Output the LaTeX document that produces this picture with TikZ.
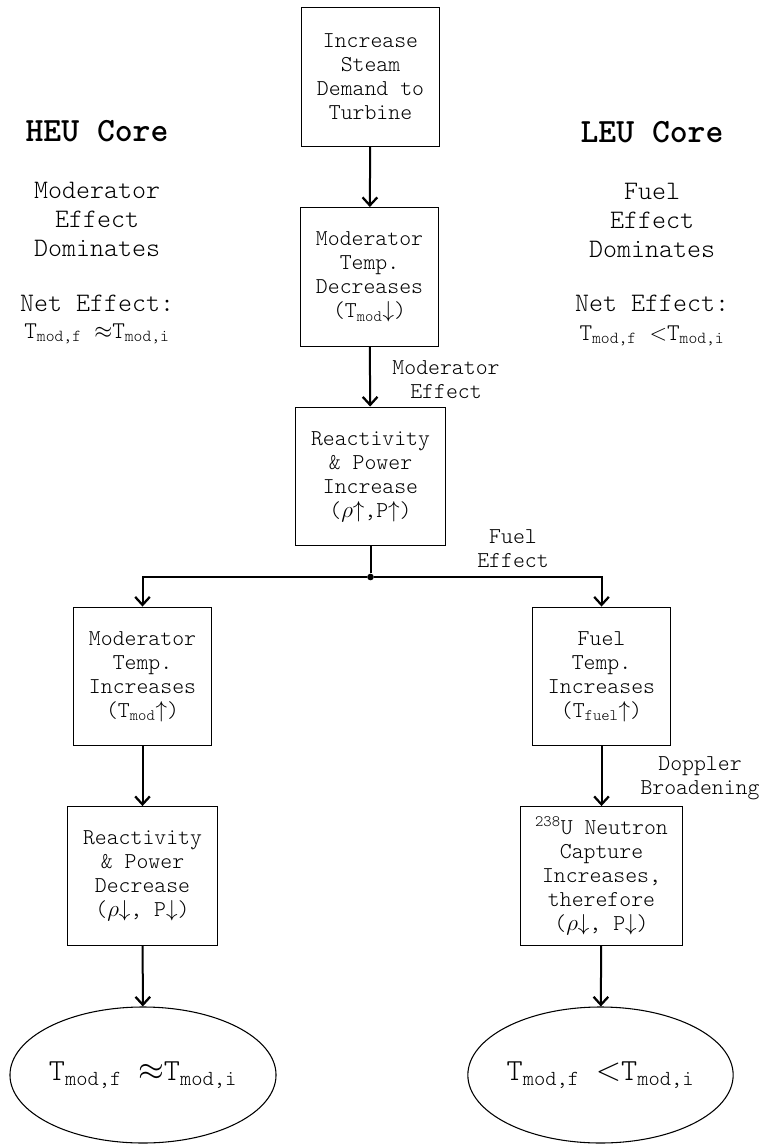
\documentclass[tikz,border=0pt]{standalone}
\usepackage{fontspec}
\usetikzlibrary{arrows.meta}
\usetikzlibrary{shapes}

\newcommand{\mono}{\ttfamily\fontseries{l}\selectfont}
\newcommand{\tsub}[1]{\textsubscript{#1}}
\newcommand{\up}{$\uparrow$}
\newcommand{\down}{$\downarrow$}

\tikzset{
    box/.style={draw, line width=0.9pt, align=center, minimum width=104pt, minimum height=104pt,
        inner sep=2pt, font=\fontsize{17}{18}\mono},
    endstate/.style={draw, ellipse, line width=0.8pt, minimum width=195pt, minimum height=102pt,
        inner sep=0pt, font=\fontsize{23}{26}\mono},
    flow/.style={line width=1.5pt, -{Straight Barb[length=6pt,width=11pt,line width=1.7pt]}},
    edgelabel/.style={align=center, font=\fontsize{17}{18}\mono},
    sidetext/.style={align=center, font=\fontsize{20}{21.75}\mono},
    sideeq/.style={font=\fontsize{18}{20}\mono},
    coretitle/.style={font=\fontsize{25.5}{28}\ttfamily\bfseries},
    junction/.style={circle, fill, inner sep=0pt, minimum size=5pt}
}

\begin{document}
\begin{tikzpicture}[x=0.75pt, y=-0.75pt]
    \useasboundingbox (0,0) rectangle (759,1144);

    % side notes
    \node[coretitle] (heu) at (97,131) {HEU Core};
    \node[sidetext] (heudom) at (97,219) {Moderator\\Effect\\Dominates};
    \node[sidetext] (heunet) at (97,303) {Net Effect:};
    \node[sideeq] (heueq) at (97,334) {T\tsub{mod,f} $\approx$T\tsub{mod,i}};

    \node[coretitle] (leu) at (652,132) {LEU Core};
    \node[sidetext] (leudom) at (652,220) {Fuel\\Effect\\Dominates};
    \node[sidetext] (leunet) at (652,303) {Net Effect:};
    \node[sideeq] (leueq) at (652,336) {T\tsub{mod,f} $<$T\tsub{mod,i}};

    % main column
    \node[box] (steam) at (370.5,77) {Increase\\Steam\\Demand to\\Turbine};
    \node[box] (moddec) at (369.5,277) {Moderator\\Temp.\\Decreases\\(T\tsub{mod}\down)};
    \node[box, minimum width=113pt] (reactinc) at (370.5,476.5) {Reactivity\\\& Power\\Increase\\($\rho$\up,P\up)};
    \node[junction] (split) at (370.5,577) {};

    % HEU branch
    \node[box] (modinc) at (142.5,676.5) {Moderator\\Temp.\\Increases\\(T\tsub{mod}\up)};
    \node[box, minimum width=113pt] (reactdec) at (142.5,876) {Reactivity\\\& Power\\Decrease\\($\rho$\down, P\down)};
    \node[endstate] (heuend) at (143,1075) {T\tsub{mod,f} $\approx$T\tsub{mod,i}};

    % LEU branch
    \node[box] (fueltemp) at (601.5,676.5) {Fuel\\Temp.\\Increases\\(T\tsub{fuel}\up)};
    \node[box, minimum width=122pt] (capture) at (601.5,876) {\textsuperscript{238}U Neutron\\Capture\\Increases,\\therefore\\($\rho$\down, P\down)};
    \node[endstate] (leuend) at (600.5,1075) {T\tsub{mod,f} $<$T\tsub{mod,i}};

    % edge labels
    \node[edgelabel] (modeffect) at (446,380) {Moderator\\Effect};
    \node[edgelabel] (fueleffect) at (513,549) {Fuel\\Effect};
    \node[edgelabel] (doppler) at (700,778) {Doppler\\Broadening};

    \draw[flow] (steam) -- (moddec);
    \draw[flow] (moddec) -- (reactinc);
    \draw[line width=1.5pt] (reactinc) -- (split);
    \draw[flow] (split) -| (modinc);
    \draw[flow] (split) -| (fueltemp);
    \draw[flow] (modinc) -- (reactdec);
    \draw[flow] (reactdec) -- (heuend);
    \draw[flow] (fueltemp) -- (capture);
    \draw[flow] (capture) -- (leuend);
\end{tikzpicture}
\end{document}
